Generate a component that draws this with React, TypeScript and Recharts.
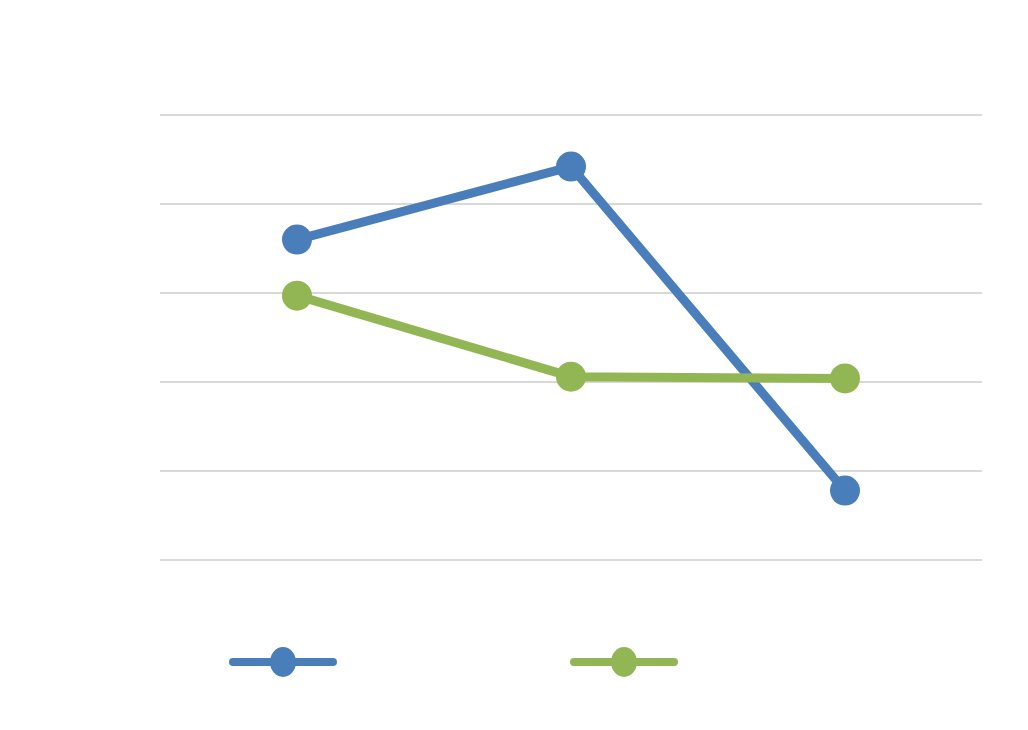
import { LineChart, Line, XAxis, YAxis, CartesianGrid, Legend } from 'recharts'

const categories = ['A', 'B', 'C']
const series1 = [3.6, 4.42, 0.78]
const series2 = [2.97, 2.06, 2.04]
const yTicks = [0, 1, 2, 3, 4, 5]

const BLUE = '#4a7ebb'
const GREEN = '#93b655'

const data = categories.map((c, i) => ({ cat: c, s1: series1[i], s2: series2[i] }))

function LegendContent({ payload }: any) {
  return (
    <div style={{ position: 'relative', width: 1028, height: 40 }}>
      {(payload || []).map((p: any, i: number) => (
        <svg
          key={i}
          width={112}
          height={34}
          style={{ position: 'absolute', left: 227 + i * 341, top: 0 }}
        >
          <line x1={6} y1={17} x2={106} y2={17} stroke={p.color} strokeWidth={8} strokeLinecap="round" />
          <ellipse cx={56} cy={17} rx={13} ry={15} fill={p.color} />
        </svg>
      ))}
    </div>
  )
}

export default function App() {
  return (
    <div style={{ position: 'absolute', left: 0, top: 0, width: 1028, height: 730, background: '#fff' }}>
      <LineChart width={1028} height={730} data={data} margin={{ top: 115, right: 46, bottom: 130, left: 160 }}>
        <CartesianGrid vertical={false} stroke="#d9d9d9" strokeWidth={2} />
        <XAxis dataKey="cat" hide padding={{ left: 137, right: 137 }} />
        <YAxis hide domain={[0, 5]} ticks={yTicks} />
        <Legend
          content={<LegendContent />}
          wrapperStyle={{ position: 'absolute', left: 0, top: 645, width: 1028 }}
        />
        <Line
          dataKey="s1"
          stroke={BLUE}
          strokeWidth={9}
          dot={{ r: 15, fill: BLUE, stroke: BLUE, strokeWidth: 0 }}
          isAnimationActive={false}
        />
        <Line
          dataKey="s2"
          stroke={GREEN}
          strokeWidth={9}
          dot={{ r: 15, fill: GREEN, stroke: GREEN, strokeWidth: 0 }}
          isAnimationActive={false}
        />
      </LineChart>
    </div>
  )
}
